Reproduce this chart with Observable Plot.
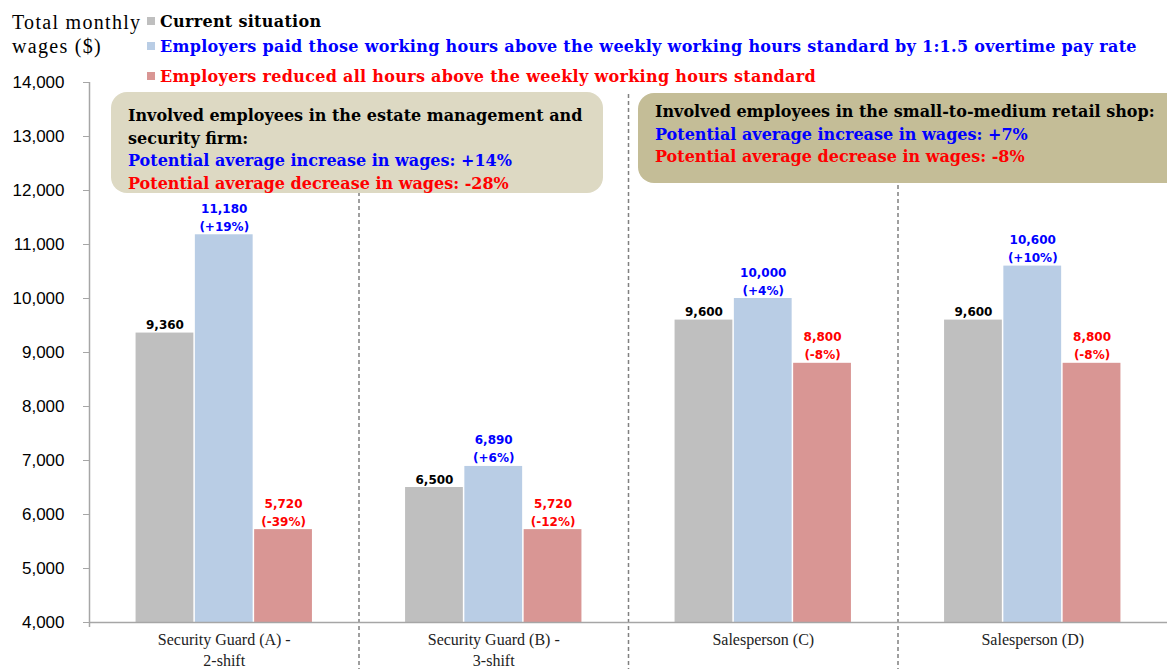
<!DOCTYPE html>
<html>
<head>
<meta charset="utf-8">
<script src="https://cdn.jsdelivr.net/npm/d3@7"></script>
<script src="https://cdn.jsdelivr.net/npm/@observablehq/plot@0.6"></script>
<style>
  html, body { margin: 0; padding: 0; background: #fff; }
  #wrap { position: relative; width: 1167px; height: 669px; overflow: hidden; }
  #chart { position: absolute; left: 0; top: 0; }
  .abs { position: absolute; white-space: nowrap; }
  .ytitle { font-family: "Liberation Serif", serif; font-size: 20px; line-height: 24px; color: #000; left: 12px; top: 10px; letter-spacing: 1.3px; }
  .leg { font-family: "DejaVu Serif", serif; font-weight: bold; font-size: 16px; letter-spacing: 0.3px; line-height: 20px; left: 147px; }
  .leg .sw { display: inline-block; width: 8px; height: 8px; margin-right: 5px; vertical-align: 2px; }
  .box { position: absolute; box-sizing: border-box; font-family: "DejaVu Serif", serif; font-weight: bold; font-size: 16px; line-height: 22.5px; white-space: nowrap; }
</style>
</head>
<body>
<div id="wrap">
  <div id="chart"></div>
</div>
<script>
const categories = ["Security Guard (A) -\n2-shift", "Security Guard (B) -\n3-shift", "Salesperson (C)", "Salesperson (D)"];
const seriesNames = [
  "Current situation",
  "Employers paid those working hours above the weekly working hours standard by 1:1.5 overtime pay rate",
  "Employers reduced all hours above the weekly working hours standard"
];
const current = [9360, 6500, 9600, 9600];
const paid = [11180, 6890, 10000, 10600];
const reduced = [5720, 5720, 8800, 8800];
const paidPct = ["+19%", "+6%", "+4%", "+10%"];
const reducedPct = ["-39%", "-12%", "-8%", "-8%"];
const yTicks = [4000, 5000, 6000, 7000, 8000, 9000, 10000, 11000, 12000, 13000, 14000];
const yTitle = ["Total monthly", "wages ($)"];
const boxLeft = [
  ["Involved employees in the estate management and", "#000"],
  ["security firm:", "#000"],
  ["Potential average increase in wages: +14%", "#0000ff"],
  ["Potential average decrease in wages: -28%", "#ff0000"]
];
const boxRight = [
  ["Involved employees in the small-to-medium retail shop:", "#000"],
  ["Potential average increase in wages: +7%", "#0000ff"],
  ["Potential average decrease in wages: -8%", "#ff0000"]
];
const barColors = ["#bfbfbf", "#b9cde5", "#d99694"];
const textColors = ["#000000", "#0000ff", "#ff0000"];

const fmt = d3.format(",");
const pcts = [null, paidPct, reducedPct];
const rows = categories.flatMap((c, i) =>
  [current[i], paid[i], reduced[i]].map((v, j) => ({
    i, j, value: v,
    label: j === 0 ? fmt(v) : `${fmt(v)}\n(${pcts[j][i]})`
  }))
);

const bw = 0.22;
const labelFont = "DejaVu Sans, sans-serif";

const plot = Plot.plot({
  width: 1167,
  height: 669,
  marginLeft: 89,
  marginRight: 0,
  marginTop: 82,
  marginBottom: 47,
  x: { domain: [-0.5, categories.length - 0.5], axis: null },
  y: { domain: [yTicks[0], yTicks[yTicks.length - 1]], axis: null },
  style: { background: "white", color: "black" },
  marks: [
    Plot.ruleX(categories.slice(1).map((_, i) => i + 0.5), {
      stroke: "#808080", strokeWidth: 1.5, strokeDasharray: "4,3", insetTop: 12, insetBottom: -47
    }),
    Plot.rectY(rows, {
      x1: d => d.i - 1.5 * bw + d.j * bw,
      x2: d => d.i - 0.5 * bw + d.j * bw,
      y1: yTicks[0],
      y2: "value",
      fill: d => barColors[d.j],
      insetLeft: 0.75,
      insetRight: 0.75
    }),
    Plot.ruleY([yTicks[0]], { stroke: "#a6a6a6", strokeWidth: 1.5 }),
    Plot.ruleX([-0.5], { stroke: "#a6a6a6", strokeWidth: 1.5, insetBottom: -5 }),
    Plot.axisY({
      ticks: yTicks, tickFormat: fmt, tickSize: 6, tickPadding: 19,
      fontSize: 17, fontFamily: "Liberation Sans, Arial, sans-serif",
      stroke: "#a6a6a6", fill: "black", label: null
    }),
    Plot.axisX({
      ticks: categories.map((_, i) => i), tickFormat: i => categories[i],
      tickSize: 0, tickPadding: 8, fontSize: 16, lineHeight: 1.3,
      fontFamily: "Liberation Serif, serif", fill: "#222", label: null,
      style: { letterSpacing: "0.7px" }
    }),
    ...[0, 1, 2].map(k => Plot.text(rows.filter(d => d.j === k), {
      x: d => d.i - bw + d.j * bw,
      y: "value",
      text: "label",
      lineAnchor: "bottom",
      dy: -4,
      lineHeight: 1.5,
      fill: textColors[k],
      fontFamily: labelFont,
      fontWeight: "bold",
      fontSize: 12
    }))
  ]
});
document.getElementById("chart").appendChild(plot);

const wrap = document.getElementById("wrap");
// y-axis title
const yt = document.createElement("div");
yt.className = "abs ytitle";
yt.innerHTML = yTitle.join("<br>");
wrap.appendChild(yt);

// legend
const legTops = [12, 37, 67];
seriesNames.forEach((name, k) => {
  const el = document.createElement("div");
  el.className = "abs leg";
  el.style.top = legTops[k] + "px";
  el.style.color = textColors[k];
  el.innerHTML = `<span class="sw" style="background:${barColors[k]}"></span>${name}`;
  wrap.appendChild(el);
});

// annotation boxes
function makeBox(lines, style) {
  const b = document.createElement("div");
  b.className = "box";
  Object.assign(b.style, style);
  b.innerHTML = lines.map(([t, c]) => `<div style="color:${c}">${t}</div>`).join("");
  wrap.appendChild(b);
}
makeBox(boxLeft, { left: "111px", top: "92px", width: "492px", height: "101px", padding: "13px 0 0 17px", background: "#ddd9c3", borderRadius: "16px" });
makeBox(boxRight, { left: "638px", top: "93px", width: "577px", height: "90px", padding: "8px 0 0 17px", background: "#c4bd97", borderRadius: "16px" });
</script>
</body>
</html>
